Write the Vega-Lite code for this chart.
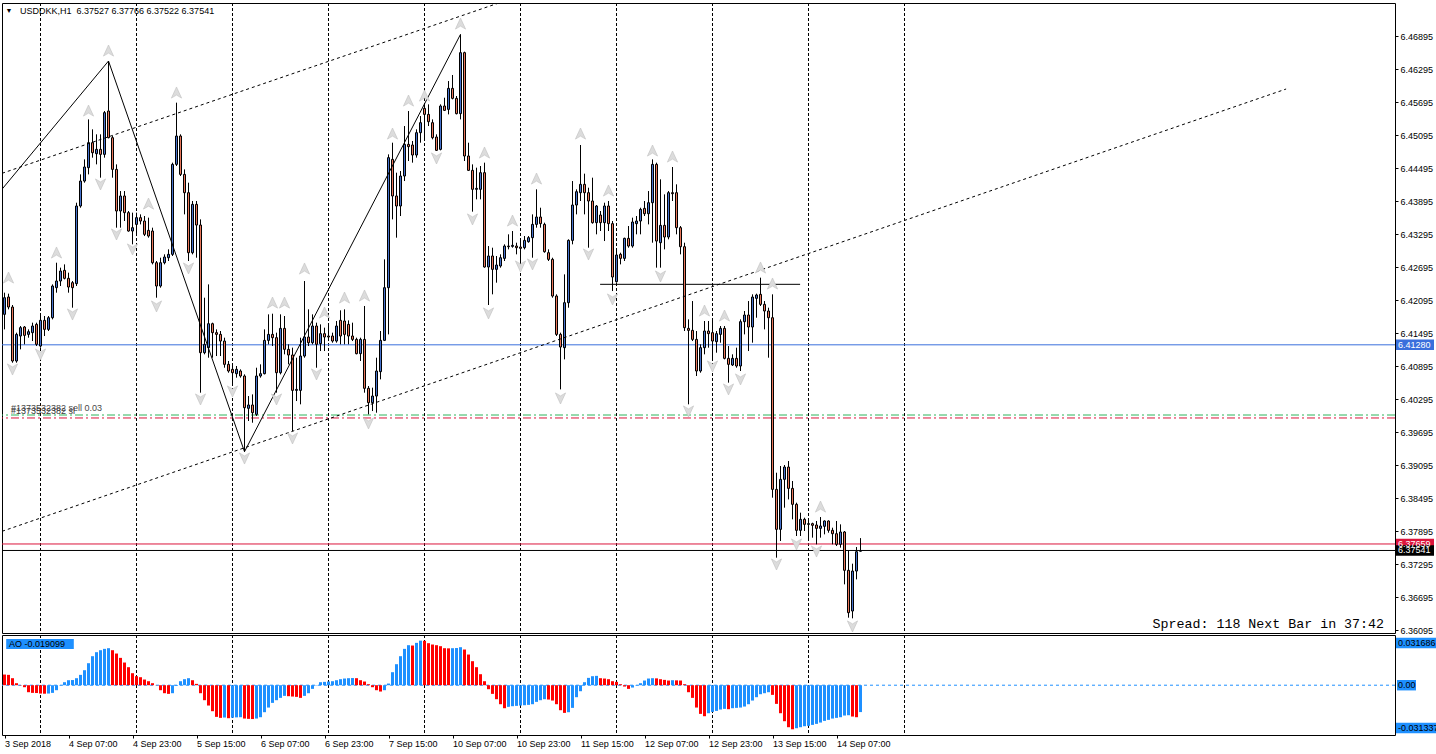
{
"$schema": "https://vega.github.io/schema/vega-lite/v6.json",
"padding": {"left": 1, "top": 2, "right": 0, "bottom": 0},
"background": "#ffffff",
"bounds": "flush",
"spacing": 2,
"config": {"font": "Liberation Sans", "view": {"stroke": "#000000", "strokeWidth": 1}, "axis": {"labelFont": "Liberation Sans", "labelFontSize": 9, "labelColor": "#000000", "tickColor": "#000000", "domain": false, "grid": false, "labelOverlap": false, "labelFlush": false, "labelSeparation": 0}},
"datasets": {
"candles": [
{"i":0,"o":6.41834,"h":6.42228,"l":6.41561,"c":6.42137},
{"i":1,"o":6.42149,"h":6.42210,"l":6.41925,"c":6.41967},
{"i":2,"o":6.41967,"h":6.42004,"l":6.40955,"c":6.40986},
{"i":3,"o":6.40986,"h":6.41501,"l":6.40955,"c":6.41470},
{"i":4,"o":6.41440,"h":6.41622,"l":6.41198,"c":6.41592},
{"i":5,"o":6.41604,"h":6.41622,"l":6.41289,"c":6.41452},
{"i":6,"o":6.41470,"h":6.41561,"l":6.41410,"c":6.41519},
{"i":7,"o":6.41501,"h":6.41683,"l":6.41349,"c":6.41622},
{"i":8,"o":6.41652,"h":6.41683,"l":6.41258,"c":6.41289},
{"i":9,"o":6.41258,"h":6.41804,"l":6.41228,"c":6.41725},
{"i":10,"o":6.41725,"h":6.41804,"l":6.41440,"c":6.41561},
{"i":11,"o":6.41561,"h":6.41804,"l":6.41531,"c":6.41773},
{"i":12,"o":6.41773,"h":6.42379,"l":6.41743,"c":6.42349},
{"i":13,"o":6.42319,"h":6.42773,"l":6.42228,"c":6.42440},
{"i":14,"o":6.42440,"h":6.42683,"l":6.42349,"c":6.42622},
{"i":15,"o":6.42634,"h":6.42743,"l":6.42470,"c":6.42489},
{"i":16,"o":6.42489,"h":6.42592,"l":6.42228,"c":6.42331},
{"i":17,"o":6.42410,"h":6.42440,"l":6.41955,"c":6.42319},
{"i":18,"o":6.42392,"h":6.43864,"l":6.42349,"c":6.43804},
{"i":19,"o":6.43804,"h":6.44379,"l":6.43773,"c":6.44258},
{"i":20,"o":6.44258,"h":6.44652,"l":6.44228,"c":6.44513},
{"i":21,"o":6.44501,"h":6.45379,"l":6.44379,"c":6.44955},
{"i":22,"o":6.44955,"h":6.45198,"l":6.44683,"c":6.44773},
{"i":23,"o":6.44755,"h":6.45107,"l":6.44561,"c":6.44834},
{"i":24,"o":6.44834,"h":6.45107,"l":6.44319,"c":6.44743},
{"i":25,"o":6.44743,"h":6.45531,"l":6.44683,"c":6.45501},
{"i":26,"o":6.45531,"h":6.46440,"l":6.45034,"c":6.45046},
{"i":27,"o":6.45046,"h":6.45076,"l":6.44319,"c":6.44470},
{"i":28,"o":6.44470,"h":6.44561,"l":6.43410,"c":6.43713},
{"i":29,"o":6.43713,"h":6.44076,"l":6.43410,"c":6.43986},
{"i":30,"o":6.43986,"h":6.44076,"l":6.43531,"c":6.43683},
{"i":31,"o":6.43683,"h":6.43713,"l":6.43337,"c":6.43349},
{"i":32,"o":6.43349,"h":6.43683,"l":6.43107,"c":6.43410},
{"i":33,"o":6.43470,"h":6.43683,"l":6.43258,"c":6.43592},
{"i":34,"o":6.43592,"h":6.43652,"l":6.43470,"c":6.43531},
{"i":35,"o":6.43531,"h":6.43622,"l":6.43258,"c":6.43289},
{"i":36,"o":6.43361,"h":6.43592,"l":6.43228,"c":6.43258},
{"i":37,"o":6.43349,"h":6.43410,"l":6.42743,"c":6.42773},
{"i":38,"o":6.42773,"h":6.42804,"l":6.42137,"c":6.42349},
{"i":39,"o":6.42349,"h":6.42864,"l":6.42319,"c":6.42773},
{"i":40,"o":6.42773,"h":6.42925,"l":6.42743,"c":6.42876},
{"i":41,"o":6.42864,"h":6.43016,"l":6.42804,"c":6.42925},
{"i":42,"o":6.42925,"h":6.44592,"l":6.42895,"c":6.44561},
{"i":43,"o":6.44561,"h":6.45683,"l":6.44531,"c":6.45076},
{"i":44,"o":6.45076,"h":6.45107,"l":6.44349,"c":6.44379},
{"i":45,"o":6.44379,"h":6.44470,"l":6.43652,"c":6.44046},
{"i":46,"o":6.44046,"h":6.44228,"l":6.42804,"c":6.42955},
{"i":47,"o":6.42955,"h":6.43895,"l":6.42925,"c":6.43834},
{"i":48,"o":6.43834,"h":6.43895,"l":6.42864,"c":6.43458},
{"i":49,"o":6.43458,"h":6.43561,"l":6.40410,"c":6.41137},
{"i":50,"o":6.41137,"h":6.42137,"l":6.41107,"c":6.41289},
{"i":51,"o":6.41228,"h":6.42379,"l":6.41046,"c":6.41664},
{"i":52,"o":6.41664,"h":6.41683,"l":6.41046,"c":6.41501},
{"i":53,"o":6.41501,"h":6.41561,"l":6.41076,"c":6.41470},
{"i":54,"o":6.41470,"h":6.41531,"l":6.41076,"c":6.41349},
{"i":55,"o":6.41349,"h":6.41410,"l":6.40864,"c":6.40925},
{"i":56,"o":6.40925,"h":6.40986,"l":6.40773,"c":6.40804},
{"i":57,"o":6.40834,"h":6.40925,"l":6.40561,"c":6.40773},
{"i":58,"o":6.40755,"h":6.40895,"l":6.40683,"c":6.40834},
{"i":59,"o":6.40804,"h":6.40834,"l":6.40683,"c":6.40713},
{"i":60,"o":6.40713,"h":6.40743,"l":6.39337,"c":6.40137},
{"i":61,"o":6.40125,"h":6.40349,"l":6.39895,"c":6.40186},
{"i":62,"o":6.40186,"h":6.40379,"l":6.39864,"c":6.40046},
{"i":63,"o":6.40016,"h":6.40864,"l":6.39986,"c":6.40713},
{"i":64,"o":6.40713,"h":6.40925,"l":6.40683,"c":6.40755},
{"i":65,"o":6.40755,"h":6.41561,"l":6.40743,"c":6.41361},
{"i":66,"o":6.41361,"h":6.41834,"l":6.41289,"c":6.41470},
{"i":67,"o":6.41470,"h":6.41846,"l":6.41258,"c":6.41410},
{"i":68,"o":6.41410,"h":6.41501,"l":6.40410,"c":6.40773},
{"i":69,"o":6.40773,"h":6.41834,"l":6.40743,"c":6.41579},
{"i":70,"o":6.41579,"h":6.41804,"l":6.41107,"c":6.41198},
{"i":71,"o":6.41198,"h":6.41289,"l":6.40925,"c":6.41095},
{"i":72,"o":6.41095,"h":6.41228,"l":6.39713,"c":6.40452},
{"i":73,"o":6.40452,"h":6.41046,"l":6.40258,"c":6.40470},
{"i":74,"o":6.40452,"h":6.41410,"l":6.40198,"c":6.41076},
{"i":75,"o":6.41076,"h":6.42440,"l":6.41046,"c":6.41422},
{"i":76,"o":6.41422,"h":6.41925,"l":6.41258,"c":6.41319},
{"i":77,"o":6.41319,"h":6.41834,"l":6.41289,"c":6.41622},
{"i":78,"o":6.41622,"h":6.41683,"l":6.40864,"c":6.41289},
{"i":79,"o":6.41301,"h":6.41652,"l":6.41167,"c":6.41483},
{"i":80,"o":6.41483,"h":6.41592,"l":6.41167,"c":6.41422},
{"i":81,"o":6.41440,"h":6.41622,"l":6.41349,"c":6.41422},
{"i":82,"o":6.41440,"h":6.41501,"l":6.41319,"c":6.41349},
{"i":83,"o":6.41349,"h":6.41713,"l":6.41319,"c":6.41622},
{"i":84,"o":6.41725,"h":6.41907,"l":6.41289,"c":6.41440},
{"i":85,"o":6.41713,"h":6.41925,"l":6.41289,"c":6.41470},
{"i":86,"o":6.41652,"h":6.41725,"l":6.41289,"c":6.41440},
{"i":87,"o":6.41440,"h":6.41683,"l":6.41349,"c":6.41379},
{"i":88,"o":6.41379,"h":6.41410,"l":6.41107,"c":6.41119},
{"i":89,"o":6.41119,"h":6.41410,"l":6.40986,"c":6.41379},
{"i":90,"o":6.41379,"h":6.41986,"l":6.40410,"c":6.40489},
{"i":91,"o":6.40489,"h":6.40531,"l":6.40016,"c":6.40228},
{"i":92,"o":6.40228,"h":6.40501,"l":6.40076,"c":6.40349},
{"i":93,"o":6.40349,"h":6.41046,"l":6.40046,"c":6.40804},
{"i":94,"o":6.40792,"h":6.41531,"l":6.40652,"c":6.41361},
{"i":95,"o":6.41361,"h":6.42834,"l":6.41349,"c":6.42319},
{"i":96,"o":6.42319,"h":6.44743,"l":6.41470,"c":6.44683},
{"i":97,"o":6.44652,"h":6.44955,"l":6.43561,"c":6.43986},
{"i":98,"o":6.43986,"h":6.44410,"l":6.43228,"c":6.43804},
{"i":99,"o":6.43804,"h":6.44440,"l":6.43622,"c":6.44349},
{"i":100,"o":6.44349,"h":6.45258,"l":6.44258,"c":6.44925},
{"i":101,"o":6.44925,"h":6.45531,"l":6.44622,"c":6.44883},
{"i":102,"o":6.44913,"h":6.44986,"l":6.44592,"c":6.44731},
{"i":103,"o":6.44731,"h":6.45198,"l":6.44683,"c":6.45137},
{"i":104,"o":6.45137,"h":6.45440,"l":6.44955,"c":6.45319},
{"i":105,"o":6.45579,"h":6.45652,"l":6.44986,"c":6.45470},
{"i":106,"o":6.45470,"h":6.45652,"l":6.45258,"c":6.45337},
{"i":107,"o":6.45319,"h":6.45379,"l":6.45016,"c":6.45046},
{"i":108,"o":6.45058,"h":6.45107,"l":6.44804,"c":6.44816},
{"i":109,"o":6.44834,"h":6.45652,"l":6.44816,"c":6.45622},
{"i":110,"o":6.45622,"h":6.45773,"l":6.45531,"c":6.45543},
{"i":111,"o":6.45561,"h":6.46076,"l":6.45470,"c":6.45943},
{"i":112,"o":6.45943,"h":6.46186,"l":6.45743,"c":6.45761},
{"i":113,"o":6.45761,"h":6.45804,"l":6.45470,"c":6.45483},
{"i":114,"o":6.45483,"h":6.46925,"l":6.45379,"c":6.46592},
{"i":115,"o":6.46592,"h":6.46610,"l":6.44622,"c":6.44713},
{"i":116,"o":6.44713,"h":6.44955,"l":6.44440,"c":6.44452},
{"i":117,"o":6.44452,"h":6.44561,"l":6.43701,"c":6.44107},
{"i":118,"o":6.44107,"h":6.44501,"l":6.43925,"c":6.44125},
{"i":119,"o":6.44107,"h":6.44531,"l":6.43925,"c":6.44410},
{"i":120,"o":6.44410,"h":6.44592,"l":6.42683,"c":6.42695},
{"i":121,"o":6.42695,"h":6.43076,"l":6.42004,"c":6.42895},
{"i":122,"o":6.42895,"h":6.43046,"l":6.42198,"c":6.42652},
{"i":123,"o":6.42652,"h":6.42895,"l":6.42410,"c":6.42731},
{"i":124,"o":6.42713,"h":6.42925,"l":6.42683,"c":6.42864},
{"i":125,"o":6.42852,"h":6.43107,"l":6.42804,"c":6.43076},
{"i":126,"o":6.43076,"h":6.43289,"l":6.43016,"c":6.43064},
{"i":127,"o":6.43070,"h":6.43349,"l":6.43046,"c":6.43089},
{"i":128,"o":6.43076,"h":6.43137,"l":6.42925,"c":6.43046},
{"i":129,"o":6.43058,"h":6.43198,"l":6.42743,"c":6.43034},
{"i":130,"o":6.43046,"h":6.43258,"l":6.43016,"c":6.43179},
{"i":131,"o":6.43155,"h":6.43258,"l":6.43137,"c":6.43228},
{"i":132,"o":6.43228,"h":6.43652,"l":6.42864,"c":6.43470},
{"i":133,"o":6.43470,"h":6.44107,"l":6.43410,"c":6.43604},
{"i":134,"o":6.43604,"h":6.43773,"l":6.43410,"c":6.43483},
{"i":135,"o":6.43470,"h":6.43501,"l":6.42955,"c":6.42973},
{"i":136,"o":6.42955,"h":6.43016,"l":6.42804,"c":6.42834},
{"i":137,"o":6.42834,"h":6.42864,"l":6.42137,"c":6.42167},
{"i":138,"o":6.42167,"h":6.42198,"l":6.41440,"c":6.41470},
{"i":139,"o":6.41470,"h":6.41501,"l":6.40470,"c":6.41240},
{"i":140,"o":6.41228,"h":6.42561,"l":6.41016,"c":6.42046},
{"i":141,"o":6.42046,"h":6.43198,"l":6.41955,"c":6.43179},
{"i":142,"o":6.43179,"h":6.44258,"l":6.43107,"c":6.43822},
{"i":143,"o":6.43822,"h":6.44107,"l":6.43652,"c":6.44064},
{"i":144,"o":6.44046,"h":6.44913,"l":6.43895,"c":6.44198},
{"i":145,"o":6.44198,"h":6.44392,"l":6.43652,"c":6.44046},
{"i":146,"o":6.44046,"h":6.44137,"l":6.43046,"c":6.43895},
{"i":147,"o":6.43895,"h":6.44319,"l":6.43483,"c":6.43501},
{"i":148,"o":6.43501,"h":6.43822,"l":6.43289,"c":6.43804},
{"i":149,"o":6.43640,"h":6.43713,"l":6.43349,"c":6.43501},
{"i":150,"o":6.43501,"h":6.43864,"l":6.43167,"c":6.43804},
{"i":151,"o":6.43804,"h":6.43895,"l":6.43349,"c":6.43483},
{"i":152,"o":6.43483,"h":6.43531,"l":6.42258,"c":6.42513},
{"i":153,"o":6.42428,"h":6.42986,"l":6.42410,"c":6.42913},
{"i":154,"o":6.42925,"h":6.42955,"l":6.42743,"c":6.42852},
{"i":155,"o":6.42852,"h":6.43228,"l":6.42804,"c":6.43216},
{"i":156,"o":6.43216,"h":6.43440,"l":6.43046,"c":6.43076},
{"i":157,"o":6.43076,"h":6.43592,"l":6.43046,"c":6.43513},
{"i":158,"o":6.43483,"h":6.43622,"l":6.43289,"c":6.43531},
{"i":159,"o":6.43531,"h":6.43773,"l":6.43289,"c":6.43743},
{"i":160,"o":6.43761,"h":6.43895,"l":6.43622,"c":6.43664},
{"i":161,"o":6.43664,"h":6.44076,"l":6.43470,"c":6.43864},
{"i":162,"o":6.43864,"h":6.44652,"l":6.43137,"c":6.44561},
{"i":163,"o":6.44561,"h":6.44592,"l":6.42683,"c":6.43167},
{"i":164,"o":6.43137,"h":6.44289,"l":6.42683,"c":6.43452},
{"i":165,"o":6.43452,"h":6.44016,"l":6.43016,"c":6.43240},
{"i":166,"o":6.43240,"h":6.44076,"l":6.43198,"c":6.44046},
{"i":167,"o":6.44046,"h":6.44513,"l":6.43895,"c":6.44028},
{"i":168,"o":6.44046,"h":6.44198,"l":6.43289,"c":6.43410},
{"i":169,"o":6.43410,"h":6.43440,"l":6.42925,"c":6.43064},
{"i":170,"o":6.43064,"h":6.43137,"l":6.41531,"c":6.41592},
{"i":171,"o":6.41579,"h":6.41743,"l":6.40198,"c":6.41543},
{"i":172,"o":6.41543,"h":6.42076,"l":6.41349,"c":6.41379},
{"i":173,"o":6.41379,"h":6.41531,"l":6.40713,"c":6.40804},
{"i":174,"o":6.40804,"h":6.41289,"l":6.40773,"c":6.41228},
{"i":175,"o":6.41228,"h":6.41713,"l":6.41107,"c":6.41531},
{"i":176,"o":6.41531,"h":6.41713,"l":6.41228,"c":6.41483},
{"i":177,"o":6.41501,"h":6.41713,"l":6.40986,"c":6.41349},
{"i":178,"o":6.41337,"h":6.41531,"l":6.41137,"c":6.41483},
{"i":179,"o":6.41470,"h":6.41622,"l":6.41319,"c":6.41579},
{"i":180,"o":6.41579,"h":6.41622,"l":6.41016,"c":6.41034},
{"i":181,"o":6.41034,"h":6.41258,"l":6.40592,"c":6.40925},
{"i":182,"o":6.40913,"h":6.41107,"l":6.40895,"c":6.41034},
{"i":183,"o":6.41034,"h":6.41228,"l":6.40864,"c":6.40895},
{"i":184,"o":6.40895,"h":6.41743,"l":6.40804,"c":6.41701},
{"i":185,"o":6.41701,"h":6.41895,"l":6.41470,"c":6.41822},
{"i":186,"o":6.41822,"h":6.42076,"l":6.41167,"c":6.41604},
{"i":187,"o":6.41604,"h":6.42198,"l":6.41319,"c":6.42149},
{"i":188,"o":6.42125,"h":6.42210,"l":6.41773,"c":6.42186},
{"i":189,"o":6.42198,"h":6.42501,"l":6.41986,"c":6.42016},
{"i":190,"o":6.42016,"h":6.42076,"l":6.41561,"c":6.41895},
{"i":191,"o":6.41895,"h":6.41955,"l":6.41046,"c":6.41773},
{"i":192,"o":6.41773,"h":6.42198,"l":6.38501,"c":6.38652},
{"i":193,"o":6.38652,"h":6.38955,"l":6.37410,"c":6.37925},
{"i":194,"o":6.37925,"h":6.39077,"l":6.37713,"c":6.38834},
{"i":195,"o":6.38834,"h":6.39095,"l":6.38319,"c":6.39058},
{"i":196,"o":6.39058,"h":6.39167,"l":6.38470,"c":6.38670},
{"i":197,"o":6.38670,"h":6.38804,"l":6.38107,"c":6.38380},
{"i":198,"o":6.38380,"h":6.38410,"l":6.37804,"c":6.37907},
{"i":199,"o":6.37907,"h":6.38228,"l":6.37804,"c":6.38107},
{"i":200,"o":6.38107,"h":6.38137,"l":6.37895,"c":6.38016},
{"i":201,"o":6.38016,"h":6.38077,"l":6.37743,"c":6.38028},
{"i":202,"o":6.38028,"h":6.38046,"l":6.37774,"c":6.37998},
{"i":203,"o":6.38004,"h":6.38077,"l":6.37652,"c":6.37943},
{"i":204,"o":6.37943,"h":6.38149,"l":6.37774,"c":6.37986},
{"i":205,"o":6.37980,"h":6.38089,"l":6.37834,"c":6.38077},
{"i":206,"o":6.38077,"h":6.38089,"l":6.37864,"c":6.37907},
{"i":207,"o":6.37907,"h":6.37955,"l":6.37652,"c":6.37846},
{"i":208,"o":6.37846,"h":6.38077,"l":6.37622,"c":6.37652},
{"i":209,"o":6.37652,"h":6.38016,"l":6.37592,"c":6.37877},
{"i":210,"o":6.37877,"h":6.37895,"l":6.36925,"c":6.37180},
{"i":211,"o":6.37180,"h":6.37543,"l":6.36319,"c":6.36410},
{"i":212,"o":6.36440,"h":6.37301,"l":6.36307,"c":6.37167},
{"i":213,"o":6.37167,"h":6.37604,"l":6.37016,"c":6.37519},
{"i":214,"o":6.37527,"h":6.37766,"l":6.37522,"c":6.37541}
],
"ao": [
{"i":0,"v":0.00758,"u":0},{"i":1,"v":0.00735,"u":0},{"i":2,"v":0.00498,"u":0},{"i":3,"v":0.00142,"u":0},{"i":4,"v":-0.00024,"u":0},
{"i":5,"v":-0.00142,"u":0},{"i":6,"v":-0.00498,"u":0},{"i":7,"v":-0.00545,"u":0},{"i":8,"v":-0.00557,"u":0},{"i":9,"v":-0.00592,"u":0},
{"i":10,"v":-0.00604,"u":0},{"i":11,"v":-0.00592,"u":1},{"i":12,"v":-0.00545,"u":1},{"i":13,"v":-0.00355,"u":1},{"i":14,"v":-0.00024,"u":1},
{"i":15,"v":0.00213,"u":1},{"i":16,"v":0.00355,"u":1},{"i":17,"v":0.00367,"u":1},{"i":18,"v":0.00498,"u":1},{"i":19,"v":0.00735,"u":1},
{"i":20,"v":0.01066,"u":1},{"i":21,"v":0.01564,"u":1},{"i":22,"v":0.02062,"u":1},{"i":23,"v":0.02346,"u":1},{"i":24,"v":0.02488,"u":1},
{"i":25,"v":0.02583,"u":1},{"i":26,"v":0.02630,"u":1},{"i":27,"v":0.02488,"u":0},{"i":28,"v":0.02251,"u":0},{"i":29,"v":0.01943,"u":0},
{"i":30,"v":0.01611,"u":0},{"i":31,"v":0.01280,"u":0},{"i":32,"v":0.00853,"u":0},{"i":33,"v":0.00640,"u":0},{"i":34,"v":0.00569,"u":0},
{"i":35,"v":0.00403,"u":0},{"i":36,"v":0.00284,"u":0},{"i":37,"v":0.00142,"u":0},{"i":38,"v":-0.00012,"u":0},{"i":39,"v":-0.00355,"u":0},
{"i":40,"v":-0.00569,"u":0},{"i":41,"v":-0.00616,"u":0},{"i":42,"v":-0.00569,"u":1},{"i":43,"v":-0.00047,"u":1},{"i":44,"v":0.00284,"u":1},
{"i":45,"v":0.00427,"u":1},{"i":46,"v":0.00498,"u":1},{"i":47,"v":0.00355,"u":0},{"i":48,"v":0.00095,"u":0},{"i":49,"v":-0.00569,"u":0},
{"i":50,"v":-0.01066,"u":0},{"i":51,"v":-0.01445,"u":0},{"i":52,"v":-0.01848,"u":0},{"i":53,"v":-0.02251,"u":0},{"i":54,"v":-0.02322,"u":0},
{"i":55,"v":-0.02299,"u":1},{"i":56,"v":-0.02346,"u":0},{"i":57,"v":-0.02310,"u":1},{"i":58,"v":-0.02287,"u":1},{"i":59,"v":-0.02275,"u":1},
{"i":60,"v":-0.02370,"u":0},{"i":61,"v":-0.02393,"u":0},{"i":62,"v":-0.02405,"u":0},{"i":63,"v":-0.02370,"u":1},{"i":64,"v":-0.02275,"u":1},
{"i":65,"v":-0.01919,"u":1},{"i":66,"v":-0.01588,"u":1},{"i":67,"v":-0.01256,"u":1},{"i":68,"v":-0.01066,"u":1},{"i":69,"v":-0.00900,"u":1},
{"i":70,"v":-0.00758,"u":1},{"i":71,"v":-0.00782,"u":0},{"i":72,"v":-0.00806,"u":0},{"i":73,"v":-0.00829,"u":0},{"i":74,"v":-0.00900,"u":0},
{"i":75,"v":-0.00758,"u":1},{"i":76,"v":-0.00569,"u":1},{"i":77,"v":-0.00261,"u":1},{"i":78,"v":-0.00024,"u":1},{"i":79,"v":0.00213,"u":1},
{"i":80,"v":0.00237,"u":1},{"i":81,"v":0.00261,"u":1},{"i":82,"v":0.00284,"u":1},{"i":83,"v":0.00355,"u":1},{"i":84,"v":0.00427,"u":1},
{"i":85,"v":0.00474,"u":1},{"i":86,"v":0.00498,"u":1},{"i":87,"v":0.00509,"u":1},{"i":88,"v":0.00498,"u":0},{"i":89,"v":0.00355,"u":0},
{"i":90,"v":0.00261,"u":0},{"i":91,"v":0.00071,"u":0},{"i":92,"v":-0.00142,"u":0},{"i":93,"v":-0.00355,"u":0},{"i":94,"v":-0.00450,"u":0},
{"i":95,"v":-0.00355,"u":1},{"i":96,"v":0.00118,"u":1},{"i":97,"v":0.00924,"u":1},{"i":98,"v":0.01493,"u":1},{"i":99,"v":0.02062,"u":1},
{"i":100,"v":0.02583,"u":1},{"i":101,"v":0.02844,"u":1},{"i":102,"v":0.02820,"u":0},{"i":103,"v":0.03009,"u":1},{"i":104,"v":0.031686,"u":1},
{"i":105,"v":0.03155,"u":0},{"i":106,"v":0.02986,"u":0},{"i":107,"v":0.02891,"u":0},{"i":108,"v":0.02844,"u":0},{"i":109,"v":0.02773,"u":0},
{"i":110,"v":0.02630,"u":0},{"i":111,"v":0.02619,"u":0},{"i":112,"v":0.02630,"u":1},{"i":113,"v":0.02642,"u":1},{"i":114,"v":0.02701,"u":1},
{"i":115,"v":0.02536,"u":0},{"i":116,"v":0.02180,"u":0},{"i":117,"v":0.01706,"u":0},{"i":118,"v":0.01280,"u":0},{"i":119,"v":0.00782,"u":0},
{"i":120,"v":0.00284,"u":0},{"i":121,"v":-0.00284,"u":0},{"i":122,"v":-0.00616,"u":0},{"i":123,"v":-0.00995,"u":0},{"i":124,"v":-0.01351,"u":0},
{"i":125,"v":-0.01635,"u":0},{"i":126,"v":-0.01540,"u":1},{"i":127,"v":-0.01493,"u":1},{"i":128,"v":-0.01469,"u":1},{"i":129,"v":-0.01445,"u":1},
{"i":130,"v":-0.01422,"u":1},{"i":131,"v":-0.01398,"u":1},{"i":132,"v":-0.01351,"u":1},{"i":133,"v":-0.01185,"u":1},{"i":134,"v":-0.01066,"u":1},
{"i":135,"v":-0.00995,"u":1},{"i":136,"v":-0.01019,"u":0},{"i":137,"v":-0.01090,"u":0},{"i":138,"v":-0.01351,"u":0},{"i":139,"v":-0.01777,"u":0},
{"i":140,"v":-0.01967,"u":0},{"i":141,"v":-0.01919,"u":1},{"i":142,"v":-0.01611,"u":1},{"i":143,"v":-0.00853,"u":1},{"i":144,"v":-0.00427,"u":1},
{"i":145,"v":0.00213,"u":1},{"i":146,"v":0.00521,"u":1},{"i":147,"v":0.00640,"u":1},{"i":148,"v":0.00664,"u":1},{"i":149,"v":0.00498,"u":0},
{"i":150,"v":0.00474,"u":0},{"i":151,"v":0.00427,"u":0},{"i":152,"v":0.00284,"u":0},{"i":153,"v":0.00237,"u":0},{"i":154,"v":0.00071,"u":0},
{"i":155,"v":-0.00095,"u":0},{"i":156,"v":-0.00261,"u":0},{"i":157,"v":-0.00166,"u":1},{"i":158,"v":-0.00024,"u":1},{"i":159,"v":0.00142,"u":1},
{"i":160,"v":0.00332,"u":1},{"i":161,"v":0.00474,"u":1},{"i":162,"v":0.00498,"u":1},{"i":163,"v":0.00486,"u":0},{"i":164,"v":0.00427,"u":0},
{"i":165,"v":0.00379,"u":0},{"i":166,"v":0.00332,"u":0},{"i":167,"v":0.00355,"u":1},{"i":168,"v":0.00344,"u":0},{"i":169,"v":0.00332,"u":0},
{"i":170,"v":0.00071,"u":0},{"i":171,"v":-0.00498,"u":0},{"i":172,"v":-0.00900,"u":0},{"i":173,"v":-0.01588,"u":0},{"i":174,"v":-0.02038,"u":0},
{"i":175,"v":-0.02204,"u":0},{"i":176,"v":-0.01991,"u":1},{"i":177,"v":-0.01896,"u":1},{"i":178,"v":-0.01825,"u":1},{"i":179,"v":-0.01730,"u":1},
{"i":180,"v":-0.01682,"u":1},{"i":181,"v":-0.01706,"u":0},{"i":182,"v":-0.01635,"u":1},{"i":183,"v":-0.01611,"u":1},{"i":184,"v":-0.01588,"u":1},
{"i":185,"v":-0.01517,"u":1},{"i":186,"v":-0.01351,"u":1},{"i":187,"v":-0.01090,"u":1},{"i":188,"v":-0.00853,"u":1},{"i":189,"v":-0.00640,"u":1},
{"i":190,"v":-0.00569,"u":1},{"i":191,"v":-0.00498,"u":1},{"i":192,"v":-0.00687,"u":0},{"i":193,"v":-0.01327,"u":0},{"i":194,"v":-0.01991,"u":0},
{"i":195,"v":-0.02559,"u":0},{"i":196,"v":-0.02986,"u":0},{"i":197,"v":-0.031337,"u":0},{"i":198,"v":-0.03057,"u":1},{"i":199,"v":-0.02986,"u":1},
{"i":200,"v":-0.02915,"u":1},{"i":201,"v":-0.02891,"u":1},{"i":202,"v":-0.02820,"u":1},{"i":203,"v":-0.02749,"u":1},{"i":204,"v":-0.02654,"u":1},
{"i":205,"v":-0.02536,"u":1},{"i":206,"v":-0.02464,"u":1},{"i":207,"v":-0.02370,"u":1},{"i":208,"v":-0.02322,"u":1},{"i":209,"v":-0.02275,"u":1},
{"i":210,"v":-0.02156,"u":1},{"i":211,"v":-0.02133,"u":1},{"i":212,"v":-0.02227,"u":0},{"i":213,"v":-0.02275,"u":0},{"i":214,"v":-0.019099,"u":1}
],
"fu": [
{"i":1,"p":6.42495},{"i":13,"p":6.42950},{"i":21,"p":6.45531},{"i":26,"p":6.46622},{"i":36,"p":6.43840},{"i":43,"p":6.45859},
{"i":67,"p":6.42040},{"i":70,"p":6.42040},{"i":75,"p":6.42659},{"i":80,"p":6.41859},{"i":85,"p":6.42131},{"i":90,"p":6.42168},
{"i":97,"p":6.45113},{"i":101,"p":6.45713},{"i":105,"p":6.45804},{"i":114,"p":6.47113},{"i":120,"p":6.44768},{"i":127,"p":6.43531},
{"i":133,"p":6.44295},{"i":144,"p":6.45113},{"i":151,"p":6.44077},{"i":162,"p":6.44804},{"i":167,"p":6.44695},{"i":175,"p":6.41895},
{"i":180,"p":6.41804},{"i":189,"p":6.42677},{"i":192,"p":6.42386},{"i":204,"p":6.38331}
],
"fd": [
{"i":2,"p":6.40840},{"i":9,"p":6.41113},{"i":17,"p":6.41840},{"i":24,"p":6.44204},{"i":28,"p":6.43295},{"i":32,"p":6.43022},
{"i":38,"p":6.41986},{"i":46,"p":6.42677},{"i":49,"p":6.40295},{"i":57,"p":6.40440},{"i":60,"p":6.39222},{"i":68,"p":6.40295},
{"i":72,"p":6.39586},{"i":78,"p":6.40750},{"i":91,"p":6.39859},{"i":108,"p":6.44677},{"i":117,"p":6.43568},{"i":121,"p":6.41859},
{"i":129,"p":6.42713},{"i":132,"p":6.42750},{"i":139,"p":6.40313},{"i":146,"p":6.42931},{"i":152,"p":6.42113},{"i":164,"p":6.42531},
{"i":171,"p":6.40077},{"i":177,"p":6.40895},{"i":181,"p":6.40477},{"i":184,"p":6.40659},{"i":193,"p":6.37295},{"i":198,"p":6.37659},
{"i":203,"p":6.37531},{"i":212,"p":6.36168}
],
"days": [{"i":9},{"i":33},{"i":57},{"i":81},{"i":105},{"i":129},{"i":153},{"i":177},{"i":201},{"i":225}],
"zig": [{"i":-0.6,"p":6.44111},{"i":26,"p":6.46440},{"i":60,"p":6.39337},{"i":114,"p":6.46925}],
"chan": [{"k":"u","i":-0.6,"p":6.44399},{"k":"u","i":125,"p":6.47531},{"k":"l","i":-0.6,"p":6.37890},{"k":"l","i":320.4,"p":6.45931}]
},
"vconcat": [
{
"width": 1393, "height": 630,
"layer": [
{"data": {"name": "days"}, "mark": {"type": "rule", "color": "#000000", "strokeWidth": 1, "strokeDash": [3, 2]},
 "encoding": {"x": {"field": "i", "type": "quantitative", "scale": {"domain": [-0.625, 347.625], "nice": false, "zero": false, "padding": 0}, "axis": null}}},
{"data": {"values": [{"p": 6.4128, "k": "b"}, {"p": 6.37659, "k": "r"}, {"p": 6.37541, "k": "k"}]}, "mark": {"type": "rule", "strokeWidth": 1},
 "encoding": {"y": {"field": "p", "type": "quantitative", "scale": {"domain": [6.360405, 6.47495], "nice": false, "zero": false, "padding": 0},
   "axis": {"orient": "right", "title": null, "values": [6.36095, 6.36695, 6.37295, 6.37895, 6.38495, 6.39095, 6.39695, 6.40295, 6.40895, 6.41495, 6.42095, 6.42695, 6.43295, 6.43895, 6.44495, 6.45095, 6.45695, 6.46295, 6.46895], "tickCount": 100, "format": ".5f", "tickSize": 3, "labelPadding": 2, "labelFontSize": 9, "labelAlign": "left", "labelBaseline": "middle", "labelOverlap": false, "labelFlush": false, "labelSeparation": 0, "labelBound": false, "domain": false, "grid": false}},
  "color": {"field": "k", "type": "nominal", "scale": {"domain": ["b", "r", "k", "g"], "range": ["#3a6fdc", "#dc143c", "#000000", "#2eb35a"]}, "legend": null}}},
{"data": {"values": [{"p": 6.40004, "k": "g"}, {"p": 6.3995, "k": "r"}]}, "mark": {"type": "rule", "strokeWidth": 1, "strokeDash": [8, 3, 2, 3]},
 "encoding": {"y": {"field": "p", "type": "quantitative"},
  "color": {"field": "k", "type": "nominal", "scale": {"domain": ["b", "r", "k", "g"], "range": ["#3a6fdc", "#dc143c", "#000000", "#2eb35a"]}, "legend": null}}},
{"data": {"values": [{"a": 148.9, "b": 198.9, "p": 6.4238}]}, "mark": {"type": "rule", "color": "#000000", "strokeWidth": 1},
 "encoding": {"x": {"field": "a", "type": "quantitative", "axis": null}, "x2": {"field": "b"}, "y": {"field": "p", "type": "quantitative"}}},
{"data": {"name": "candles"}, "mark": {"type": "rule", "color": "#000000", "strokeWidth": 1},
 "encoding": {"x": {"field": "i", "type": "quantitative", "axis": null}, "y": {"field": "l", "type": "quantitative"}, "y2": {"field": "h"}}},
{"data": {"name": "candles"}, "mark": {"type": "bar", "width": 2, "stroke": "#000000", "strokeWidth": 1},
 "encoding": {"x": {"field": "i", "type": "quantitative", "scale": {"domain": [-0.625, 347.625], "nice": false, "zero": false, "padding": 0}, "axis": null},
  "y": {"field": "o", "type": "quantitative"},
  "y2": {"field": "c"},
  "fill": {"condition": {"test": "datum.c >= datum.o", "value": "#4672cd"}, "value": "#e8765a"}}},
{"data": {"name": "chan"}, "mark": {"type": "line", "color": "#000000", "strokeWidth": 1, "strokeDash": [3, 3], "clip": true},
 "encoding": {"x": {"field": "i", "type": "quantitative", "axis": null}, "y": {"field": "p", "type": "quantitative"}, "detail": {"field": "k"}}},
{"data": {"name": "zig"}, "mark": {"type": "line", "color": "#000000", "strokeWidth": 1, "clip": true},
 "encoding": {"x": {"field": "i", "type": "quantitative", "axis": null}, "y": {"field": "p", "type": "quantitative"}}},
{"data": {"name": "fu"}, "mark": {"type": "point", "shape": "M0,-1L0.85,0.85L0,0.35L-0.85,0.85Z", "filled": true, "fill": "#dcdcdc", "stroke": "#c0c0c0", "strokeWidth": 0.6, "size": 144, "opacity": 1},
 "encoding": {"x": {"field": "i", "type": "quantitative", "axis": null}, "y": {"field": "p", "type": "quantitative"}}},
{"data": {"name": "fd"}, "mark": {"type": "point", "shape": "M0,1L0.85,-0.85L0,-0.35L-0.85,-0.85Z", "filled": true, "fill": "#dcdcdc", "stroke": "#c0c0c0", "strokeWidth": 0.6, "size": 144, "opacity": 1},
 "encoding": {"x": {"field": "i", "type": "quantitative", "axis": null}, "y": {"field": "p", "type": "quantitative"}}},
{"data": {"values": [{"t": "USDDKK,H1\u00a0 6.37527 6.37766 6.37522 6.37541"}]}, "mark": {"type": "text", "align": "left", "baseline": "middle", "fontSize": 9, "color": "#000000"},
 "encoding": {"x": {"datum": 3.875, "type": "quantitative", "axis": null}, "y": {"datum": 6.4735, "type": "quantitative"}, "text": {"field": "t"}}},
{"data": {"values": [{"t": "▼"}]}, "mark": {"type": "text", "align": "center", "baseline": "middle", "fontSize": 7, "color": "#000000"},
 "encoding": {"x": {"datum": 1.125, "type": "quantitative", "axis": null}, "y": {"datum": 6.4735, "type": "quantitative"}, "text": {"field": "t"}}},
{"data": {"values": [{"t": "#1373532382 sell 0.03"}]}, "mark": {"type": "text", "align": "left", "baseline": "middle", "fontSize": 9, "color": "#4a4a4a"},
 "encoding": {"x": {"datum": 1.625, "type": "quantitative", "axis": null}, "y": {"datum": 6.40140, "type": "quantitative"}, "text": {"field": "t"}}},
{"data": {"values": [{"t": "#1373532382 sl"}]}, "mark": {"type": "text", "align": "left", "baseline": "middle", "fontSize": 9, "color": "#3a3a3a"},
 "encoding": {"x": {"datum": 1.625, "type": "quantitative", "axis": null}, "y": {"datum": 6.40085, "type": "quantitative"}, "text": {"field": "t"}}},
{"data": {"values": [{"t": "Spread: 118 Next Bar in 37:42"}]}, "mark": {"type": "text", "align": "right", "baseline": "middle", "fontSize": 13.3, "font": "Liberation Mono", "color": "#000000"},
 "encoding": {"x": {"datum": 344.875, "type": "quantitative", "axis": null}, "y": {"datum": 6.36204, "type": "quantitative"}, "text": {"field": "t"}}},
{"data": {"values": [{"p": 6.4128, "t": "6.41280", "k": "b"}, {"p": 6.37659, "t": "6.37659", "k": "r"}, {"p": 6.37541, "t": "6.37541", "k": "k"}]},
 "mark": {"type": "point", "shape": "M-1,-0.276L1,-0.276L1,0.276L-1,0.276Z", "filled": true, "size": 1444, "opacity": 1, "strokeWidth": 0},
 "encoding": {"x": {"datum": 352.625, "type": "quantitative", "axis": null}, "y": {"field": "p", "type": "quantitative"},
  "fill": {"field": "k", "type": "nominal", "scale": {"domain": ["b", "r", "k"], "range": ["#3a6fdc", "#dc143c", "#000000"]}, "legend": null}}},
{"data": {"values": [{"p": 6.4128, "t": "6.41280"}, {"p": 6.37659, "t": "6.37659"}, {"p": 6.37541, "t": "6.37541"}]},
 "mark": {"type": "text", "align": "left", "baseline": "middle", "fontSize": 9, "color": "#ffffff"},
 "encoding": {"x": {"datum": 348.375, "type": "quantitative", "axis": null}, "y": {"field": "p", "type": "quantitative"}, "text": {"field": "t"}}}
]
},
{
"width": 1393, "height": 100,
"layer": [
{"data": {"name": "days"}, "mark": {"type": "rule", "color": "#000000", "strokeWidth": 1, "strokeDash": [3, 2]},
 "encoding": {"x": {"field": "i", "type": "quantitative", "scale": {"domain": [-0.625, 347.625], "nice": false, "zero": false, "padding": 0},
  "axis": {"values": [0, 16, 32, 48, 64, 80, 96, 112, 128, 144, 160, 176, 192, 208], "tickCount": 100, "labelExpr": "['3 Sep 2018','4 Sep 07:00','4 Sep 23:00','5 Sep 15:00','6 Sep 07:00','6 Sep 23:00','7 Sep 15:00','10 Sep 07:00','10 Sep 23:00','11 Sep 15:00','12 Sep 07:00','12 Sep 23:00','13 Sep 15:00','14 Sep 07:00'][round(datum.value/16)]", "title": null, "tickSize": 3, "labelPadding": 1, "labelAlign": "left", "labelBaseline": "top", "labelFontSize": 9, "labelOverlap": false, "labelFlush": false, "labelBound": false, "domain": false, "grid": false}}}},
{"data": {"values": [{"v": 0}]}, "mark": {"type": "rule", "color": "#1e90ff", "strokeWidth": 1, "strokeDash": [3, 3]},
 "encoding": {"y": {"field": "v", "type": "quantitative", "scale": {"domain": [-0.03539, 0.03568], "nice": false, "zero": false, "padding": 0}, "axis": null}}},
{"data": {"name": "ao"}, "mark": {"type": "bar", "width": 3},
 "encoding": {"x": {"field": "i", "type": "quantitative", "scale": {"domain": [-0.625, 347.625], "nice": false, "zero": false, "padding": 0}},
  "y": {"field": "v", "type": "quantitative", "axis": null}, "y2": {"datum": 0},
  "fill": {"condition": {"test": "datum.u == 1", "value": "#1e90ff"}, "value": "#ff0000"}}},
{"data": {"values": [{"t": "AO -0.019099"}]}, "mark": {"type": "point", "shape": "M-1,-0.148L1,-0.148L1,0.148L-1,0.148Z", "filled": true, "fill": "#1e90ff", "size": 4570, "opacity": 1, "strokeWidth": 0},
 "encoding": {"x": {"datum": 8.875, "type": "quantitative"}, "y": {"datum": 0.0293, "type": "quantitative", "axis": null}}},
{"data": {"values": [{"t": "AO -0.019099"}]}, "mark": {"type": "text", "align": "left", "baseline": "middle", "fontSize": 9, "color": "#000000"},
 "encoding": {"x": {"datum": 1.125, "type": "quantitative"}, "y": {"datum": 0.0293, "type": "quantitative", "axis": null}, "text": {"field": "t"}}},
{"data": {"values": [{"v": 0.0300, "t": "0.031686"}, {"v": -0.0304, "t": "-0.031337"}]}, "mark": {"type": "point", "shape": "M-1,-0.256L1,-0.256L1,0.256L-1,0.256Z", "filled": true, "fill": "#1e90ff", "size": 1681, "opacity": 1, "strokeWidth": 0},
 "encoding": {"x": {"datum": 353, "type": "quantitative"}, "y": {"field": "v", "type": "quantitative", "axis": null}}},
{"data": {"values": [{"v": 0, "t": "0.00"}]}, "mark": {"type": "point", "shape": "M-1,-0.55L1,-0.55L1,0.55L-1,0.55Z", "filled": true, "fill": "#1e90ff", "size": 361, "opacity": 1, "strokeWidth": 0},
 "encoding": {"x": {"datum": 350.5, "type": "quantitative"}, "y": {"field": "v", "type": "quantitative", "axis": null}}},
{"data": {"values": [{"v": 0.0300, "t": "0.031686"}, {"v": 0, "t": "0.00"}, {"v": -0.0304, "t": "-0.031337"}]}, "mark": {"type": "text", "align": "left", "baseline": "middle", "fontSize": 9, "color": "#000000"},
 "encoding": {"x": {"datum": 348.375, "type": "quantitative"}, "y": {"field": "v", "type": "quantitative", "axis": null}, "text": {"field": "t"}}}
]
}
]
}
